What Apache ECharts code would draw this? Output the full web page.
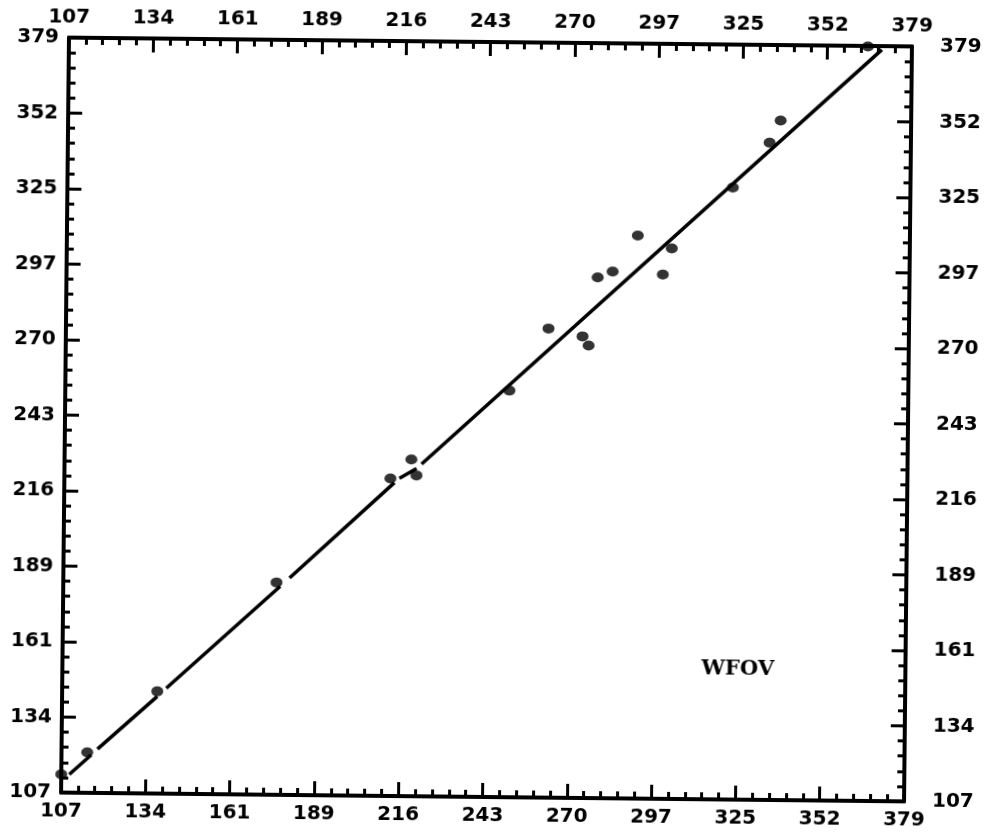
<!DOCTYPE html>
<html>
<head>
<meta charset="utf-8">
<script src="https://cdn.jsdelivr.net/npm/echarts@6/dist/echarts.min.js"></script>
<style>
  html, body { margin: 0; padding: 0; background: #fff; }
  #chart {
    width: 992px;
    height: 836px;
    /* the scan is turned a little clockwise */
    transform: rotate(0.6deg);
    transform-origin: 487px 420px;
  }
</style>
</head>
<body>
<div id="chart"></div>
<script>
// tick marks, same on all four sides
const tickValues = [107, 134.2, 161.4, 188.6, 215.8, 243, 270.2, 297.4, 324.6, 351.8, 379];
const tickLabels = ["107", "134", "161", "189", "216", "243", "270", "297", "325", "352", "379"];

// measured points
const pointX = [107.0, 115.3, 137.7, 175.8, 212.2, 218.9, 220.6, 250.3, 262.7, 273.7,
  275.7, 278.4, 283.2, 291.2, 299.4, 302.2, 321.7, 333.4, 336.9, 364.8];
const pointY = [113.6, 121.6, 143.8, 183.5, 221.4, 228.3, 222.6, 253.5, 276.0, 273.3,
  270.0, 294.6, 296.8, 309.8, 295.9, 305.3, 327.5, 343.8, 351.8, 378.8];

// fitted line, drawn in pieces (the plotter left gaps near some dots)
const lineX = [109.6, 116.6, null, 118.6, 137.7, null, 140.6, 177.0, null,
  180.0, 213.5, null, 215.1, 220.6, null, 222.2, 369.3];
const lineY = [113.6, 120.7, null, 122.8, 142.0, null, 145.0, 182.1, null,
  185.2, 219.9, null, 221.5, 225.1, null, 226.7, 377.7];

const ink = "#000";
const labelFont = {
  color: ink,
  fontFamily: "DejaVu Sans",
  fontWeight: "bold",
  fontSize: 20,
};

// four minor ticks between each pair of major ticks
let minorTicks = [];
for (let i = 0; i < tickValues.length - 1; i++) {
  let step = (tickValues[i + 1] - tickValues[i]) / 5;
  for (let k = 1; k < 5; k++) {
    minorTicks.push(tickValues[i] + step * k);
  }
}

function tickLabel(v) {
  for (let i = 0; i < tickValues.length; i++) {
    if (Math.abs(tickValues[i] - v) < 0.01) return tickLabels[i];
  }
  return "";
}

function majorAxis(position, margin) {
  return {
    type: "value",
    position: position,
    min: 107,
    max: 379,
    axisLine: { show: true, lineStyle: { color: ink, width: 4 } },
    axisTick: {
      show: true,
      inside: true,
      length: 14,
      customValues: tickValues,
      lineStyle: { color: ink, width: 3 },
    },
    axisLabel: Object.assign({
      show: true,
      margin: margin,
      customValues: tickValues,
      formatter: tickLabel,
    }, labelFont),
    splitLine: { show: false },
  };
}

function minorAxis(position) {
  return {
    type: "value",
    position: position,
    min: 107,
    max: 379,
    axisLine: { show: false },
    axisTick: {
      show: true,
      inside: true,
      length: 7,
      customValues: minorTicks,
      lineStyle: { color: ink, width: 3 },
    },
    axisLabel: { show: false },
    splitLine: { show: false },
  };
}

let lineData = [];
for (let i = 0; i < lineX.length; i++) {
  lineData.push(lineX[i] === null ? ["-", "-"] : [lineX[i], lineY[i]]);
}

let pointData = [];
for (let i = 0; i < pointX.length; i++) {
  pointData.push([pointX[i], pointY[i]]);
}

let myChart = echarts.init(document.getElementById("chart"));
myChart.setOption({
  backgroundColor: "#fff",
  animation: false,
  grid: {
    left: 65,
    right: 84,
    top: 42,
    bottom: 39,
  },
  xAxis: [
    majorAxis("bottom", 9),
    majorAxis("top", 10),
    minorAxis("bottom"),
    minorAxis("top"),
  ],
  yAxis: [
    majorAxis("left", 10),
    majorAxis("right", 28),
    minorAxis("left"),
    minorAxis("right"),
  ],
  graphic: [
    {
      type: "text",
      left: 704,
      top: 656,
      style: {
        text: "WFOV",
        fill: ink,
        font: "bold 21px 'DejaVu Serif'",
      },
    },
  ],
  series: [
    {
      name: "fit",
      type: "line",
      data: lineData,
      showSymbol: false,
      connectNulls: false,
      lineStyle: { color: ink, width: 3.5 },
      z: 2,
    },
    {
      name: "points",
      type: "scatter",
      data: pointData,
      symbol: "circle",
      symbolSize: [12, 10],
      itemStyle: { color: ink },
      z: 3,
    },
  ],
});
</script>
</body>
</html>
